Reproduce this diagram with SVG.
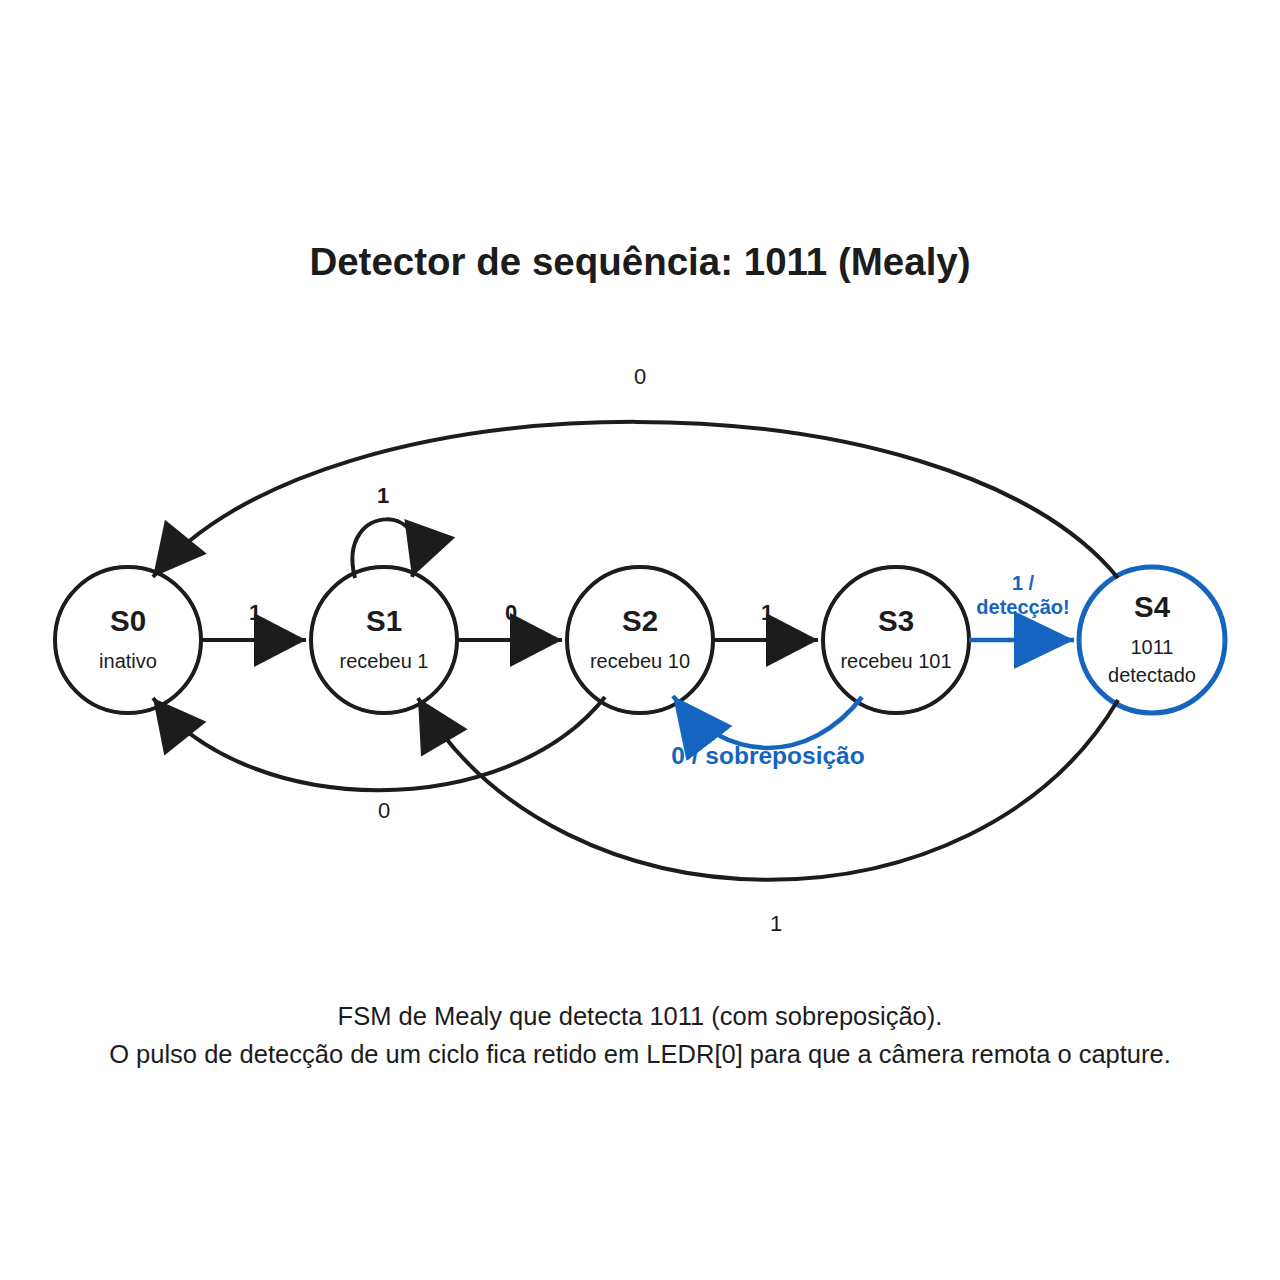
<svg xmlns="http://www.w3.org/2000/svg" width="1280" height="1280" viewBox="0 0 1280 1280">
  <style>
    .node { fill: #ffffff; stroke: #1c1c1c; stroke-width: 4; }
    .accept { fill: #ffffff; stroke: #1565c0; stroke-width: 5; }
    .edge { fill: none; stroke: #1c1c1c; stroke-width: 4; }
    .edge-blue { fill: none; stroke: #1565c0; stroke-width: 4.5; }
    text { font-family: "Liberation Sans", Arial, sans-serif; text-anchor: middle; fill: #1c1c1c; }
    .title { font-size: 38.5px; font-weight: bold; }
    .name { font-size: 29.5px; font-weight: bold; }
    .sub { font-size: 20px; }
    .lbl { font-size: 22px; font-weight: bold; }
    .lbl-r { font-size: 22px; }
    .lbl-blue { font-size: 20px; font-weight: bold; fill: #1565c0; }
    .lbl-blue2 { font-size: 24.5px; font-weight: bold; fill: #1565c0; }
    .foot { font-size: 25.5px; }
  </style>
  <defs>
    <marker id="ah" markerUnits="userSpaceOnUse" markerWidth="54" markerHeight="54" viewBox="0 0 52 54" refX="52" refY="27" orient="auto">
      <path d="M0,0 L52,27 L0,54 z" fill="#1c1c1c"/>
    </marker>
    <marker id="ahb" markerUnits="userSpaceOnUse" markerWidth="60" markerHeight="60" viewBox="0 0 60 60" refX="60" refY="30" orient="auto">
      <path d="M0,1 L60,30 L0,59 z" fill="#1565c0"/>
    </marker>
  </defs>
  <rect width="1280" height="1280" fill="#ffffff"/>

  <text class="title" x="640" y="275">Detector de sequência: 1011 (Mealy)</text>

  <g id="edge-labels">
    <text class="lbl" x="255" y="620">1</text>
    <text class="lbl" x="511" y="620">0</text>
    <text class="lbl" x="767" y="620">1</text>
    <text class="lbl" x="383" y="503">1</text>
    <text class="lbl-r" x="640" y="384">0</text>
    <text class="lbl-r" x="384" y="818">0</text>
    <text class="lbl-r" x="776" y="931">1</text>
    <text class="lbl-blue" x="1023" y="590">1 /</text>
    <text class="lbl-blue" x="1023" y="614">detecção!</text>
    <text class="lbl-blue2" x="768" y="764">0 / sobreposição</text>
  </g>

  <g id="nodes">
    <g id="S0">
      <circle class="node" cx="128" cy="640" r="73"/>
      <text class="name" x="128" y="631">S0</text>
      <text class="sub" x="128" y="668">inativo</text>
    </g>
    <g id="S1">
      <circle class="node" cx="384" cy="640" r="73"/>
      <text class="name" x="384" y="631">S1</text>
      <text class="sub" x="384" y="668">recebeu 1</text>
    </g>
    <g id="S2">
      <circle class="node" cx="640" cy="640" r="73"/>
      <text class="name" x="640" y="631">S2</text>
      <text class="sub" x="640" y="668">recebeu 10</text>
    </g>
    <g id="S3">
      <circle class="node" cx="896" cy="640" r="73"/>
      <text class="name" x="896" y="631">S3</text>
      <text class="sub" x="896" y="668">recebeu 101</text>
    </g>
    <g id="S4">
      <circle class="accept" cx="1152" cy="640" r="73"/>
      <text class="name" x="1152" y="617">S4</text>
      <text class="sub" x="1152" y="654">1011</text>
      <text class="sub" x="1152" y="682">detectado</text>
    </g>
  </g>

  <g id="connectors">
    <path class="edge" d="M201,640 L306,640" marker-end="url(#ah)"/>
    <path class="edge" d="M457,640 L562,640" marker-end="url(#ah)"/>
    <path class="edge" d="M713,640 L818,640" marker-end="url(#ah)"/>
    <path class="edge-blue" d="M969,640 L1074,640" stroke-width="5" marker-end="url(#ahb)"/>
    <path class="edge" d="M355,578 C335,500 440,500 412,577" marker-end="url(#ah)"/>
    <path class="edge" d="M1118,578 C949,370 322,370 153,577" marker-end="url(#ah)"/>
    <path class="edge" d="M605,697 C507,821 251,821 153,698" marker-end="url(#ah)"/>
    <path class="edge" d="M1118,700 C976,940 560,940 418,698" marker-end="url(#ah)"/>
    <path class="edge-blue" d="M862,697 C809,765 726,765 673,696" marker-end="url(#ahb)"/>
  </g>

  <text class="foot" x="640" y="1025">FSM de Mealy que detecta 1011 (com sobreposição).</text>
  <text class="foot" x="640" y="1063">O pulso de detecção de um ciclo fica retido em LEDR[0] para que a câmera remota o capture.</text>
</svg>
